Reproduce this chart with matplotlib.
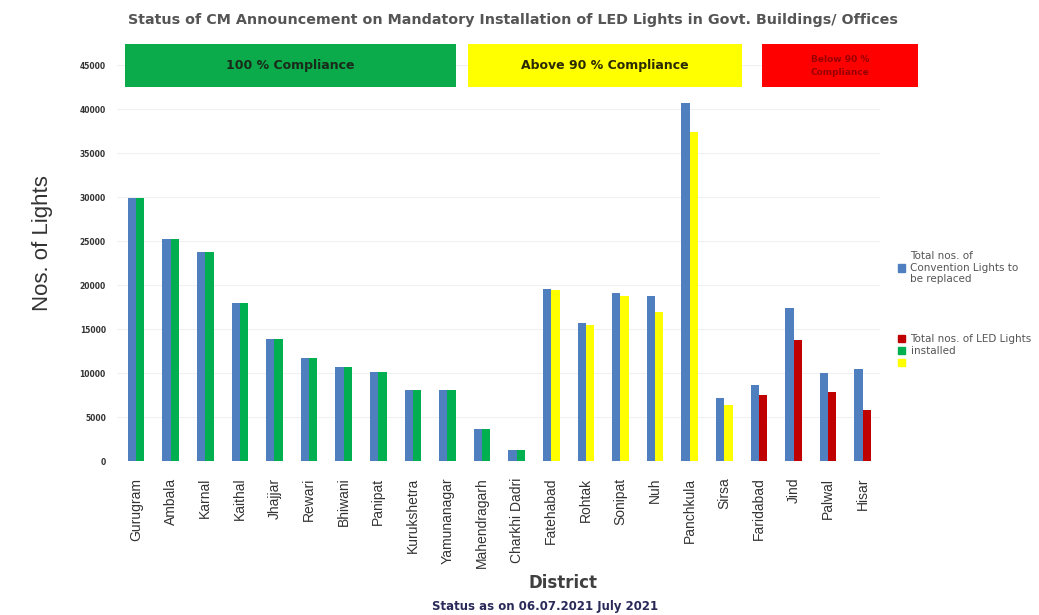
import numpy as np
import matplotlib.pyplot as plt
from matplotlib.patches import Rectangle, Patch

# Datos
districts = ['Gurugram', 'Ambala', 'Karnal', 'Kaithal', 'Jhajjar', 'Rewari', 'Bhiwani',
             'Panipat', 'Kurukshetra', 'Yamunanagar', 'Mahendragarh', 'Charkhi Dadri',
             'Fatehabad', 'Rohtak', 'Sonipat', 'Nuh', 'Panchkula', 'Sirsa',
             'Faridabad', 'Jind', 'Palwal', 'Hisar']
total_lights = [29900, 25200, 23700, 17900, 13900, 11700, 10700, 10150, 8070, 8070, 3640, 1250,
                19550, 15650, 19100, 18700, 40650, 7130,
                8640, 17350, 9970, 10420]
installed_lights = [29900, 25200, 23700, 17900, 13900, 11700, 10700, 10150, 8070, 8070, 3640, 1250,
                    19400, 15500, 18800, 16970, 37400, 6360,
                    7500, 13750, 7880, 5800]
# grupo de cumplimiento: 0 = 100 %, 1 = >90 %, 2 = <90 %
group = [0]*12 + [1]*6 + [2]*4
y_ticks = [0, 5000, 10000, 15000, 20000, 25000, 30000, 35000, 40000, 45000]

c_blue = '#4F7FBF'
group_colors = ['#00B050', '#FFFF00', '#C00000']

fig = plt.figure(figsize=(10.39, 6.15), dpi=100)
ax = fig.add_axes([0.1126, 0.2504, 0.7344, 0.6439])

x = np.arange(len(districts))
w = 0.24
ax.bar(x - w/2, total_lights, w, color=c_blue, zorder=3)
ax.bar(x + w/2, installed_lights, w, color=[group_colors[g] for g in group], zorder=3)

ax.set_xlim(-0.55, 21.5)
ax.set_ylim(0, 45000)
ax.set_yticks(y_ticks)
ax.set_yticklabels([str(t) for t in y_ticks], fontsize=5.5, fontweight='bold', color='#333333')
ax.set_xticks(x)
ax.set_xticklabels(districts, rotation=90, fontsize=10, color='#333333',
                   family='Liberation Sans')
ax.tick_params(length=0, pad=8)
ax.tick_params(axis='x', pad=12)
ax.grid(axis='y', color='#f0f0f0', linewidth=0.8, zorder=0)
for s in ax.spines.values():
    s.set_visible(False)

ax.set_ylabel('Nos. of Lights', fontsize=16, family='Liberation Sans', color='#333333')
ax.yaxis.set_label_coords(-0.084, 0.55)
ax.set_xlabel('District', fontsize=12, fontweight='bold', color='#404040')
ax.xaxis.set_label_coords(0.585, -0.285)

# Titulo y nota
fig.text(0.494, 0.967, 'Status of CM Announcement on Mandatory Installation of LED Lights in Govt. Buildings/ Offices',
         ha='center', va='center', fontsize=10.3, fontweight='bold', color='#555555')
fig.text(0.525, 0.014, 'Status as on 06.07.2021 July 2021', ha='center', va='center',
         fontsize=8.5, fontweight='bold', color='#2a2a5a')

# Cajas de cumplimiento (coordenadas de figura)
W, H = 1039, 615
boxes = [(125, 456, '#0BAA4A', '100 % Compliance', '#1a2a1a', 9),
         (468, 742, '#FFFF00', 'Above 90 % Compliance', '#2a2a00', 9),
         (762, 918, '#FF0000', 'Below 90 %\nCompliance', '#990000', 6.5)]
for x0, x1, col, txt, tcol, fs in boxes:
    fig.add_artist(Rectangle((x0/W, 1 - 87/H), (x1 - x0)/W, 43/H, transform=fig.transFigure,
                             facecolor=col, edgecolor='none'))
    fig.text((x0 + x1)/2/W, 1 - 66/H, txt, ha='center', va='center', fontsize=fs,
             fontweight='bold', color=tcol, linespacing=1.6)

# Leyenda (dos bloques, como en el original)
leg_kw = dict(loc='upper left', frameon=False, fontsize=7.5, handlelength=0.7,
              handleheight=0.7, handletextpad=0.5, labelspacing=0.2, labelcolor='#555555',
              borderaxespad=0, borderpad=0)
fig.legend([Patch(color=c_blue)], ['Total nos. of\nConvention Lights to\nbe replaced'],
           bbox_to_anchor=(898/W, 1 - 251/H), **leg_kw)
fig.legend([Patch(color=group_colors[2]), Patch(color=group_colors[0]), Patch(color=group_colors[1])],
           ['Total nos. of LED Lights', 'installed', ''],
           bbox_to_anchor=(898/W, 1 - 334/H), **leg_kw)

plt.savefig('out.png')
